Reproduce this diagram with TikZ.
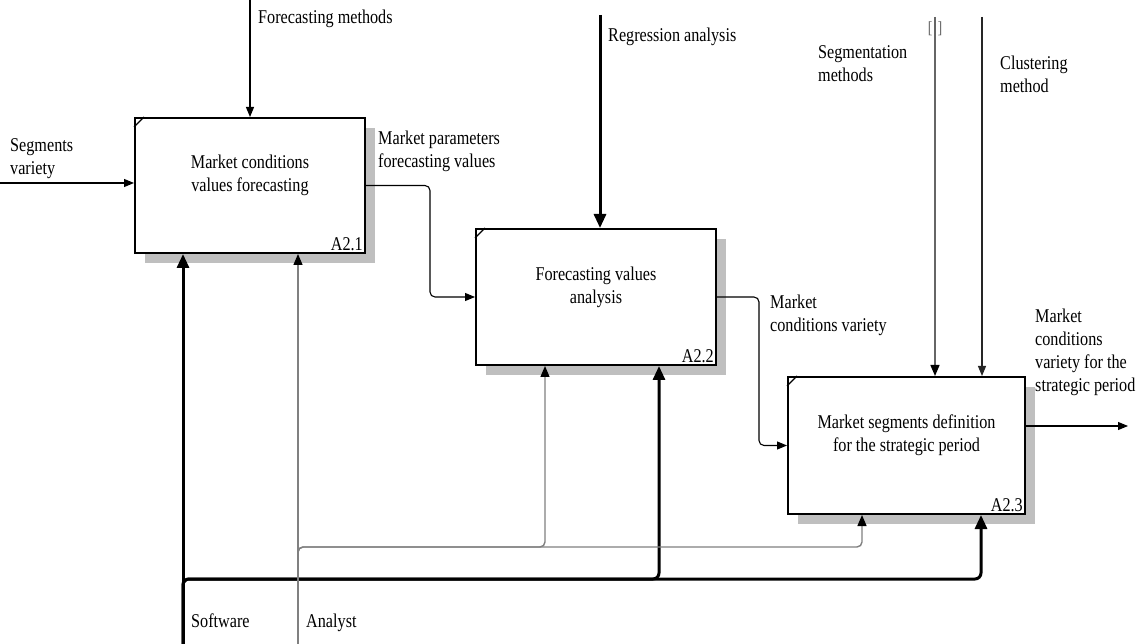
\documentclass[tikz,border=0pt]{standalone}
\usepackage{fontspec}
\setmainfont{Liberation Serif}[FakeStretch=0.83]
\usetikzlibrary{arrows.meta,calc,shadows}

\begin{document}
\begin{tikzpicture}[x=1pt,y=-1pt,
  every node/.style={font=\fontsize{19.5}{23}\selectfont},
  box/.style={draw, line width=2pt, fill=white, inner sep=0pt,
    drop shadow={shadow xshift=10pt, shadow yshift=-10pt, fill=gray!50, opacity=1}},
  boxtext/.style={align=center, yshift=10pt},
  boxid/.style={anchor=south east, inner sep=3pt},
  lbl/.style={anchor=north west, inner sep=0pt, align=left},
  thinarr/.style={line width=1.1pt, -{Triangle[length=10pt,width=8pt]}},
  greyarr/.style={line width=1.4pt, draw=black!50, -{Triangle[length=11pt,width=9pt,color=black]}},
  thickarr/.style={line width=3pt, -{Triangle[length=14pt,width=12pt]}},
  notch/.style={line width=1.4pt}]

\fill[white] (0,0) rectangle (1141,644);
\useasboundingbox (0,0) rectangle (1141,644);

% activity boxes
\node[box, minimum width=230pt, minimum height=135pt,
  label={[boxtext]center:Market conditions\\values forecasting},
  label={[boxid]south east:A2.1}] (b1) at (250,185.5) {};
\node[box, minimum width=240pt, minimum height=136pt,
  label={[boxtext]center:Forecasting values\\analysis},
  label={[boxid]south east:A2.2}] (b2) at (596,297) {};
\node[box, minimum width=237pt, minimum height=137pt,
  label={[boxtext]center:Market segments definition\\for the strategic period},
  label={[boxid]south east:A2.3}] (b3) at (906.5,445.5) {};

% corner marks
\foreach \b in {b1,b2,b3}
  \draw[notch] ($(\b.north west)+(0,10)$) -- ($(\b.north west)+(10,0)$);

% free ends of the connectors
\coordinate (fm) at (250,0);
\coordinate (sv) at (0,183);
\coordinate (ra) at (600,15);
\coordinate (sm) at (935,17);
\coordinate (cm) at (982,17);
\coordinate (out3) at (1128,426);
\coordinate (sw) at (183,644);
\coordinate (an) at (298,644);
\coordinate (j2) at (659,579);
\coordinate (j3) at (981,579);
\coordinate (k2) at (545,547);
\coordinate (k3) at (862,547);

% controls
\draw[thinarr] (fm) -- (fm |- b1.north);
\draw[thickarr] (ra) -- (ra |- b2.north);
\draw[greyarr, draw=black!60] (sm) -- (sm |- b3.north);
\draw[thinarr, draw=black!85] (cm) -- (cm |- b3.north);

% inputs and outputs
\draw[thinarr] (sv) -- (sv -| b1.west);
\draw[thinarr, rounded corners=5pt] (b1.east) -- (430,185.5) -- (430,297) -- (b2.west);
\draw[thinarr, rounded corners=5pt] (b2.east) -- (759,297) -- (759,445.5) -- (b3.west);
\draw[thinarr] (b3.east |- out3) -- (out3);

% mechanisms
\draw[thickarr] (sw) -- (sw |- b1.south);
\draw[thickarr, rounded corners=6pt] (sw) -- (sw |- j2) -- (j2) -- (j2 |- b2.south);
\draw[thickarr, rounded corners=6pt] (sw) -- (sw |- j3) -- (j3) -- (j3 |- b3.south);
\draw[greyarr] (an) -- (an |- b1.south);
\draw[greyarr, rounded corners=5pt] (an) -- (an |- k2) -- (k2) -- (k2 |- b2.south);
\draw[greyarr, rounded corners=5pt] (an) -- (an |- k3) -- (k3) -- (k3 |- b3.south);

% arrow labels
\node[lbl] (tfm) at (258,10) {Forecasting methods};
\node[lbl] (tsv) at (10,138) {Segments\\variety};
\node[lbl] (tmp) at (378,131) {Market parameters\\forecasting values};
\node[lbl] (tra) at (608,28) {Regression analysis};
\node[lbl] (tsm) at (818,45) {Segmentation\\methods};
\node[text=black!60, inner sep=0pt, font=\fontsize{17}{20}\selectfont] (tbr) at (935,29) {[\hspace{5pt}]};
\node[lbl] (tcm) at (1000,56) {Clustering\\method};
\node[lbl] (tcv) at (770,295) {Market\\conditions variety};
\node[lbl] (tout) at (1035,309) {Market\\conditions\\variety for the\\strategic period};
\node[lbl] (tsw) at (191,614) {Software};
\node[lbl] (tan) at (306,614) {Analyst};
\end{tikzpicture}
\end{document}
